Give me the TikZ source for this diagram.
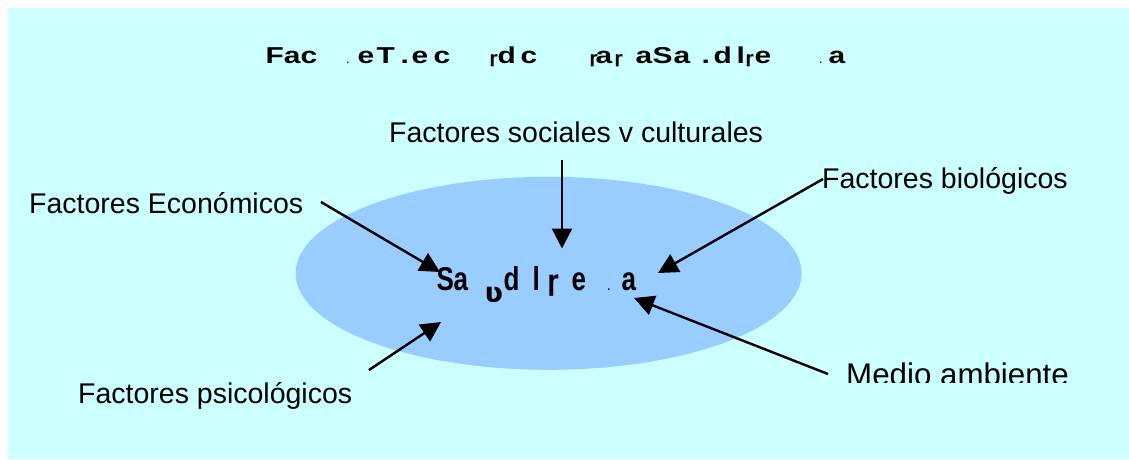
\documentclass[tikz,border=0pt]{standalone}
\usepackage{fontspec}
\setmainfont{Liberation Sans}
\newfontfamily\dv{DejaVu Sans}
\usetikzlibrary{arrows.meta,shapes.geometric}
\definecolor{bgcyan}{HTML}{CCFFFF}
\definecolor{ellblue}{HTML}{99CCFF}
\newcommand\putat[2]{\rlap{\hspace*{#1pt}#2}}
\newcommand\putwide[2]{\rlap{\hspace*{#1pt}\scalebox{1.3}[1]{#2}}}
\newcommand\oddr{{\dv\bfseries\fontsize{16}{16}\selectfont ɼ}}
\newcommand\oddrc{{\dv\bfseries\fontsize{22}{22}\selectfont ɼ}}
\newcommand\tinydot{{\fontsize{9}{9}\selectfont .}}
\tikzset{
  lbl/.style={inner sep=0pt, anchor=base west, font=\fontsize{28.5}{30}\selectfont},
  arr/.style={line width=2.4pt, -{Triangle[length=20pt,width=20pt]}},
}
\begin{document}
\begin{tikzpicture}[x=1pt,y=-1pt]
\useasboundingbox (0,0) rectangle (1129,459);
\fill[bgcyan] (8,8) rectangle (1129,459);
\node[ellipse, fill=ellblue, inner sep=0pt, minimum width=506pt, minimum height=193pt] (ell) at (548.6,273.3) {};
% title
\node[inner sep=0pt, anchor=base west, font=\bfseries\fontsize{23}{24}\selectfont] (title) at (265,63.5)
 {\putwide{0}{Fac}\putat{81}{\tinydot}\putwide{92}{e}\putwide{111}{T}\putwide{135}{.}\putwide{146}{e}\putwide{168}{c}\putat{224}{\oddr}\putwide{232}{d}\putwide{255}{c}\putat{324}{\oddr}\putwide{330}{a}\putat{349}{\oddr}\putwide{370}{a}\putwide{387}{S}\putwide{408}{a}\putwide{436}{.}\putwide{448}{d}\putwide{471}{l}\putat{480}{\oddr}\putwide{489}{e}\putat{554}{\tinydot}\putwide{563}{a}};
% centre
\node[inner sep=0pt, anchor=base west, font=\bfseries\fontsize{26}{27}\selectfont] (salud) at (436,290)
 {\scalebox{1}[1.27]{\putat{0}{S}\putat{17}{a}\putat{48}{\raisebox{-9.5pt}{\scalebox{1.25}[1]{\dv\bfseries\fontsize{22}{22}\selectfont ʋ}}}\putat{67}{d}\putat{96}{l}\putat{111}{\oddrc}\putat{135}{e}\putat{171}{\tinydot}\putat{185}{a}}};
% labels
\node[lbl] (soc) at (389,142) {Factores sociales v culturales};
\node[lbl] (bio) at (822,188) {Factores biológicos};
\node[lbl] (eco) at (29,213) {Factores Económicos};
\node[lbl] (psi) at (78,403) {Factores psicológicos};
\begin{scope}
\clip (830,340) rectangle (1100,382.3);
\node[lbl, font=\fontsize{31.3}{32}\selectfont] (med) at (846,385.5) {Medio ambiente};
\end{scope}
% arrow endpoints
\coordinate (ecoS) at (321,202); \coordinate (ecoE) at (440,272);
\coordinate (socS) at (562,160); \coordinate (socE) at (562,248.5);
\coordinate (bioS) at (823,179); \coordinate (bioE) at (658,273);
\coordinate (psiS) at (369,370); \coordinate (psiE) at (441,322);
\coordinate (medS) at (828,374); \coordinate (medE) at (634,298);
\draw[arr] (ecoS) -- (ecoE);
\draw[arr] (socS) -- (socE);
\draw[arr] (bioS) -- (bioE);
\draw[arr] (psiS) -- (psiE);
\draw[arr] (medS) -- (medE);
\end{tikzpicture}
\end{document}
